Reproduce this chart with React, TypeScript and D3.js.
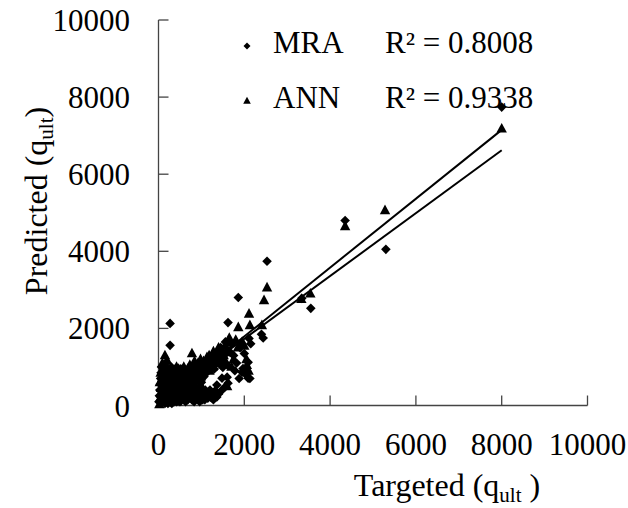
import React from "react";
import * as d3 from "d3";

// MRA predictions (diamonds): [targeted, predicted]
const mraPoints: [number, number][] = [
  [8000, 7740], [5300, 4050], [4350, 4800], [3340, 2780], [3550, 2520],
  [2530, 3740], [1860, 2800], [1620, 2150], [2440, 1750], [2400, 1850],
  [270, 2130], [270, 1560], [1670, 1380], [1500, 990], [1600, 735],
  [1620, 580], [1480, 400], [1150, 190], [1010, 220], [1950, 865],
  [2090, 710], [2090, 1120], [2130, 700], [2040, 800], [1970, 960],
  [2110, 1740], [1560, 1650], [1450, 1500], [1900, 1500], [2150, 1600],
  [1360, 530], [1480, 710], [1360, 220], [1250, 300], [1080, 150],
  [10, 100], [30, 400], [50, 700], [70, 1000], [90, 250], [110, 550],
  [130, 850], [150, 50], [170, 1100], [190, 350], [210, 650], [240, 150],
  [260, 900], [290, 450], [310, 50], [340, 750], [370, 300], [400, 550],
  [420, 100], [450, 850], [480, 400], [510, 650], [540, 200], [570, 900],
  [600, 450], [630, 100], [660, 700], [690, 300], [720, 950], [750, 550],
  [780, 150], [820, 900], [860, 350], [900, 1000], [940, 200], [1000, 950],
  [1020, 380], [1060, 1050], [1150, 1150], [1200, 400], [1300, 950],
  [1350, 1200], [1450, 1050], [1600, 1050], [1700, 1600],
  [20, 250], [40, 550], [60, 850], [80, 150], [100, 400], [120, 700],
  [140, 1000], [160, 250], [180, 500], [200, 800], [220, 50], [250, 600],
  [270, 300], [300, 1000], [320, 650], [350, 150], [380, 450], [410, 800],
  [440, 250], [470, 600], [500, 100], [530, 450], [560, 750], [590, 250],
  [620, 600], [650, 900], [680, 150], [710, 500], [740, 250], [770, 700],
  [800, 400], [830, 100], [880, 250], [960, 100], [1120, 320], [1280, 150],
  [1400, 300], [1550, 480], [1750, 1300], [1820, 1100], [1880, 700],
  [2000, 1350], [1780, 900],
  [350, 400], [420, 700], [480, 200], [550, 550], [610, 350], [670, 500],
  [730, 400], [790, 600], [850, 200], [910, 400], [970, 300], [1030, 150],
  [1090, 400], [1170, 250], [1230, 200], [1320, 380], [390, 950], [460, 300],
  [520, 950], [580, 650], [640, 200], [700, 800], [760, 350], [820, 550],
  [880, 700], [940, 800], [1000, 600], [1060, 750], [1120, 850],
  [1180, 1000], [1240, 1100], [1300, 1300],
];

// ANN predictions (triangles): [targeted, predicted]
const annPoints: [number, number][] = [
  [8000, 7180], [5280, 5065], [4350, 4650], [3540, 2900], [3330, 2760],
  [2530, 3060], [2460, 2730], [2110, 2380], [2130, 2080], [1860, 2030],
  [2410, 2080], [1620, 1640], [1390, 1430], [1130, 1250], [1550, 1170],
  [780, 1350], [200, 1170], [150, 1300], [570, 920], [740, 920],
  [2060, 1045], [2040, 916], [1850, 1500], [2000, 1550], [1650, 1400],
  [1500, 1350], [1700, 1000], [1600, 500],
  [20, 30], [40, 200], [60, 450], [80, 700], [100, 950], [120, 100],
  [140, 350], [160, 600], [180, 850], [200, 250], [230, 500], [260, 80],
  [280, 750], [300, 400], [330, 650], [360, 200], [380, 900], [400, 500],
  [430, 300], [460, 700], [490, 450], [520, 850], [550, 600], [580, 350],
  [610, 750], [650, 550], [680, 950], [720, 650], [750, 800], [780, 450],
  [820, 1000], [880, 900], [920, 1100], [960, 880], [1000, 1000],
  [1050, 1150], [1100, 950], [1150, 1200], [1200, 1050], [1250, 1300],
  [1300, 1150], [1350, 1250], [1400, 1500], [1450, 1200], [1750, 1200],
  [1800, 1700], [1950, 1650], [2050, 1200], [2100, 900], [1650, 1750],
  [30, 600], [50, 850], [70, 300], [90, 1100], [110, 500], [130, 750],
  [150, 150], [170, 400], [190, 1000], [210, 700], [240, 300], [270, 950],
  [290, 150], [320, 550], [350, 850], [370, 350], [410, 650], [440, 100],
  [470, 950], [500, 250], [530, 700], [560, 450], [590, 1000], [620, 250],
  [660, 800], [700, 400], [730, 1050], [760, 600], [800, 850], [840, 1150],
  [900, 1000], [980, 1200], [1040, 900], [1120, 1100], [1180, 1300],
  [1230, 1150], [1280, 1400], [1330, 1100], [1380, 1300], [1420, 1350],
  [1480, 1450], [1520, 1300], [1560, 1550], [1580, 1380],
  [330, 250], [390, 600], [450, 450], [510, 550], [570, 800], [630, 450],
  [690, 700], [750, 350], [810, 600], [870, 750], [930, 650], [990, 750],
  [1060, 1050], [1130, 1000], [1190, 900], [1260, 1000], [1320, 1300],
  [230, 850], [300, 250], [360, 700], [420, 1000], [480, 150], [540, 350],
  [600, 600], [680, 300], [740, 500], [800, 200], [860, 450], [920, 300],
  [980, 550],
];

// fitted trend lines, end points in data units
const mraTrend: [number, number][] = [[40, 130], [8000, 6620]];
const annTrend: [number, number][] = [[40, 40], [8000, 7150]];

const xTicks = [0, 2000, 4000, 6000, 8000, 10000];
const yTicks = [0, 2000, 4000, 6000, 8000, 10000];

const legend = [
  { name: "MRA", r2: "R\u00b2 = 0.8008", shape: "diamond" },
  { name: "ANN", r2: "R\u00b2 = 0.9338", shape: "triangle" },
];

const W = 628;
const H = 508;
const FONT = "Liberation Serif";

const diamond = (s: number) => `M0,${-s}L${s},0L0,${s}L${-s},0Z`;
const triangle = (s: number) =>
  `M0,${-s * 1.1}L${s},${s * 0.75}L${-s},${s * 0.75}Z`;

export default function App() {
  const x = d3.scaleLinear().domain([0, 10000]).range([158.5, 587.5]);
  const y = d3.scaleLinear().domain([0, 10000]).range([405.5, 20]);
  const line = d3
    .line<[number, number]>()
    .x((d) => x(d[0]))
    .y((d) => y(d[1]));

  return (
    <div style={{ position: "absolute", left: 0, top: 0 }}>
      <svg width={W} height={H} style={{ display: "block", background: "#fff" }}>
        {/* axes */}
        <g stroke="#444" strokeWidth={1.3} fill="none">
          <line x1={x(0)} x2={x(0)} y1={y(0)} y2={y(10000)} />
          <line x1={x(0)} x2={x(10000)} y1={y(0)} y2={y(0)} />
          {yTicks.map((t) => (
            <line key={"yt" + t} x1={x(0)} x2={x(0) + 10} y1={y(t)} y2={y(t)} />
          ))}
          {xTicks.map((t) => (
            <line key={"xt" + t} x1={x(t)} x2={x(t)} y1={y(0)} y2={y(0) - 10} />
          ))}
        </g>
        <g style={{ fontFamily: FONT }} fontSize={31} fill="#000">
          {yTicks.map((t) => (
            <text key={"yl" + t} x={130} y={y(t) + 11} textAnchor="end">
              {t}
            </text>
          ))}
          {xTicks.map((t) => (
            <text key={"xl" + t} x={x(t)} y={455} textAnchor="middle">
              {t}
            </text>
          ))}
        </g>

        {/* points */}
        <g fill="#000">
          {mraPoints.map((d, i) => (
            <path
              key={"m" + i}
              d={diamond(4.8)}
              transform={`translate(${x(d[0])},${y(d[1])})`}
            />
          ))}
          {annPoints.map((d, i) => (
            <path
              key={"a" + i}
              d={triangle(5.2)}
              transform={`translate(${x(d[0])},${y(d[1])})`}
            />
          ))}
        </g>

        {/* trend lines */}
        <g stroke="#000" strokeWidth={2} fill="none">
          <path d={line(mraTrend) || ""} />
          <path d={line(annTrend) || ""} />
        </g>

        {/* legend */}
        <g style={{ fontFamily: FONT }} fontSize={31} fill="#000">
          {legend.map((l, i) => (
            <g key={l.name} transform={`translate(0,${53 + i * 55})`}>
              <path
                d={l.shape === "diamond" ? diamond(3.5) : triangle(3.8)}
                transform="translate(247,-7)"
              />
              <text x={273}>{l.name}</text>
              <text x={385}>{l.r2}</text>
            </g>
          ))}
        </g>

        {/* axis titles */}
        <g style={{ fontFamily: FONT }} fontSize={32} fill="#000">
          <text x={447} y={496} textAnchor="middle">
            Targeted (q
            <tspan fontSize={21} dy={6}>ult</tspan>
            <tspan dy={-6}> )</tspan>
          </text>
          <text transform="translate(47,201) rotate(-90)" textAnchor="middle">
            Predicted (q
            <tspan fontSize={21} dy={6}>ult</tspan>
            <tspan dy={-6}>)</tspan>
          </text>
        </g>
      </svg>
    </div>
  );
}
